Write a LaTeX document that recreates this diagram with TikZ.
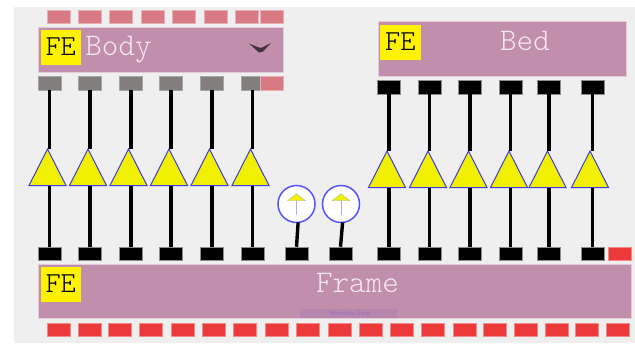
\documentclass[tikz,border=0pt]{standalone}
\usetikzlibrary{shapes.geometric}
\definecolor{bgc}{HTML}{EFEFEF}
\definecolor{mauve}{HTML}{C18EAB}
\definecolor{pinkp}{HTML}{D97983}
\definecolor{redp}{HTML}{EC3A3A}
\definecolor{grayp}{HTML}{827E7E}
\definecolor{tri}{HTML}{F0F000}
\definecolor{blu}{HTML}{3E3EE0}
\definecolor{circb}{HTML}{5555FF}
\definecolor{txtc}{HTML}{F3E6EE}
\tikzset{
  x=1pt,y=-1pt,
  every node/.style={inner sep=0pt,outer sep=0pt},
  pad/.style={rectangle,minimum width=23pt,minimum height=13.5pt},
  blk/.style={pad,fill=black,draw=black!45,line width=.4pt},
  gry/.style={pad,fill=grayp,draw=grayp!70,line width=.4pt},
  pnk/.style={pad,fill=pinkp,draw=pinkp!60,line width=.4pt},
  red/.style={pad,fill=redp,draw=redp!60,line width=.4pt},
  bar/.style={rectangle,fill=mauve,draw=mauve!45,line width=.5pt},
  febox/.style={rectangle,fill=yellow,minimum width=40.5pt,minimum height=35pt,font=\ttfamily\fontseries{l}\fontsize{29}{29}\selectfont,text=black},
  lbl/.style={font=\ttfamily\fontseries{l}\fontsize{31.5}{31.5}\selectfont,text=txtc,anchor=base},
  amp/.style={isosceles triangle,isosceles triangle stretches,shape border rotate=90,minimum width=37pt,minimum height=36.5pt,fill=tri,draw=blu,line width=1pt},
  wire/.style={line width=3.4pt,black},
  disc/.style={circle,minimum size=37pt,fill=white,draw=circb,line width=1.5pt},
}
\begin{document}
\begin{tikzpicture}
\useasboundingbox (0,0) rectangle (635,343);
\fill[bgc] (14,7) rectangle (635,343);
% top pink pads
\foreach \i/\x in {1/58.5,2/89.5,3/121,4/152.5,5/184,6/215.5,7/247,8/271.5}
  \node[pnk] (tp\i) at (\x,16.5) {};
% bars
\node[bar,minimum width=245pt,minimum height=45pt] (body) at (161,49.5) {};
\node[bar,minimum width=248pt,minimum height=54.5pt] (bed) at (502,48.75) {};
\node[bar,minimum width=592.5pt,minimum height=54pt] (frame) at (334.75,291) {};
\node[febox] (fe1) at (60.75,47.5) {\raisebox{1pt}{FE}};
\node[febox] (fe2) at (400.25,42.5) {\raisebox{1.5pt}{FE}};
\node[febox] (fe3) at (60.75,284.5) {\raisebox{1pt}{FE}};
\node[lbl] (lbody) at (118.5,55) {Body};
\node[lbl] (lbed) at (525,50) {Bed};
\node[lbl] (lframe) at (357.5,292) {Frame};
% chevron
\fill[black!65!mauve] (249,43.5) -- (259,47.5) -- (262,47.5) -- (271,43) -- (263,51.5) -- (259,52.5) -- cycle;
% faint watermark
\fill[blue!30!mauve,opacity=.18] (300,309) rectangle (398,318);
\node[font=\sffamily\fontsize{7}{7}\selectfont,text=blue!20!mauve] (snip) at (350,313.5) {Window Snip};
% left column
\foreach \i/\cx/\ax in {1/49.5/47.5,2/90/88,3/131/128.5,4/171/169,5/212/209.5,6/252.5/250.5}{
  \node[gry] (ug\i) at (\cx,83) {};
  \node[blk] (lb\i) at (\cx,253.5) {};
  \node[amp,anchor=apex] (ta\i) at (\ax,149) {};
  \draw[wire] (ug\i.south) -- (ug\i.south |- ta\i.apex);
  \draw[wire] (lb\i.north) -- (lb\i.north |- ta\i.lower side);
}
\node[pnk] (tp9) at (271.5,83) {};
% right column
\foreach \i/\cx/\ax in {1/389/387,2/429.5/428,3/470/468.5,4/510.5/509,5/549/547.5,6/592.5/590}{
  \node[blk] (ub\i) at (\cx,87) {};
  \node[blk] (rb\i) at (\cx,253.5) {};
  \node[amp,anchor=apex] (tb\i) at (\ax,151) {};
  \draw[wire] (ub\i.south) -- (ub\i.south |- tb\i.apex);
  \draw[wire] (rb\i.north) -- (rb\i.north |- tb\i.lower side);
}
\node[red] (rp0) at (619.5,253.5) {};
% discs
\foreach \i/\cx/\px in {1/296.5/296.5,2/341/340.5}{
  \node[blk] (mb\i) at (\px,253.5) {};
  \node[disc] (d\i) at (\cx,204) {};
  \draw[wire] (mb\i.north) -- (d\i.-85);
  \draw[circb!50,line width=.8pt] (\cx,197) -- (\cx,215);
  \fill[tri,draw=black!30,line width=.3pt] (\cx,193.7) -- ++(9,7) -- ++(-18,0) -- cycle;
}
% bottom red pads
\foreach \i/\x in {1/58.5,2/89.5,3/119.5,4/150.5,5/182.5,6/213.5,7/245,8/276.5,9/307.5,10/339.5,11/370.5,12/401.5,13/432.5,14/464.5,15/494.5,16/525.5,17/557,18/586.5,19/617.5}
  \node[red] (bp\i) at (\x,329.5) {};
\end{tikzpicture}
\end{document}
